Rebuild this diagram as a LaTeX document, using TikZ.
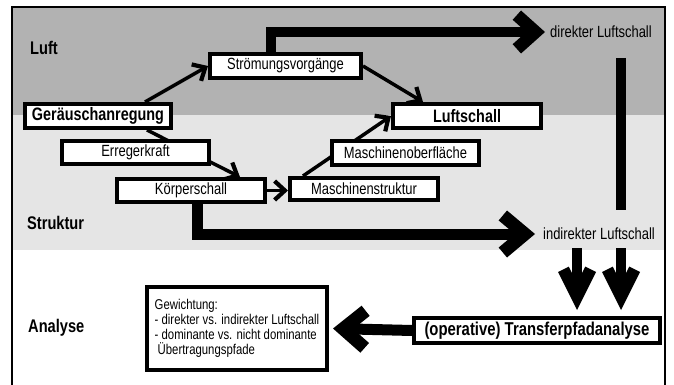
\documentclass[tikz,border=0pt]{standalone}
\usepackage{fontspec}
\setmainfont{Liberation Sans}[FakeStretch=0.8]
\usetikzlibrary{arrows.meta,calc}
\pgfdeclarelayer{bg}
\pgfdeclarelayer{behind}
\pgfsetlayers{bg,behind,main}
\definecolor{darkband}{RGB}{178,178,178}
\definecolor{lightband}{RGB}{229,229,229}
\pgfdeclarearrow{
  name = Chev,
  parameters = {\the\pgfarrowlength,\the\pgfarrowwidth,\the\pgfarrowlinewidth},
  defaults = {length=20pt, width=30pt, line width=8pt},
  setup code = {%
    \pgfmathsetmacro\chevL{\pgfarrowlength}%
    \pgfmathsetmacro\chevW{0.5*\pgfarrowwidth}%
    \pgfmathsetmacro\chevT{\pgfarrowlinewidth}%
    \pgfmathsetmacro\chevS{sqrt(\chevL*\chevL+\chevW*\chevW)}%
    \pgfmathsetmacro\chevLE{\chevT*\chevL/(2*\chevW)+0.5*\chevT*\chevS/(2*\chevW)}%
    \pgfmathsetmacro\chevBE{\chevL+\chevT*\chevW/\chevS}%
    \pgfarrowssettipend{0pt}%
    \pgfarrowssetlineend{-\chevLE pt}%
    \pgfarrowssetbackend{-\chevBE pt}%
    \pgfarrowshullpoint{0pt}{0pt}%
    \pgfarrowsupperhullpoint{-\chevL pt}{\chevW pt}%
    \pgfarrowsupperhullpoint{-\chevBE pt}{\chevW pt}%
    \pgfarrowssavethe\pgfarrowlength
    \pgfarrowssavethe\pgfarrowwidth
    \pgfarrowssavethe\pgfarrowlinewidth
  },
  drawing code = {%
    \pgfmathsetmacro\chevL{\pgfarrowlength}%
    \pgfmathsetmacro\chevW{0.5*\pgfarrowwidth}%
    \pgfmathsetmacro\chevT{\pgfarrowlinewidth}%
    \pgfmathsetmacro\chevS{sqrt(\chevL*\chevL+\chevW*\chevW)}%
    \pgfmathsetmacro\chevIX{\chevL+\chevT*\chevW/\chevS}%
    \pgfmathsetmacro\chevIY{\chevW-\chevT*\chevL/\chevS}%
    \pgfmathsetmacro\chevN{\chevT*\chevS/\chevW}%
    \pgfpathmoveto{\pgfpoint{0pt}{0pt}}%
    \pgfpathlineto{\pgfpoint{-\chevL pt}{\chevW pt}}%
    \pgfpathlineto{\pgfpoint{-\chevIX pt}{\chevIY pt}}%
    \pgfpathlineto{\pgfpoint{-\chevN pt}{0pt}}%
    \pgfpathlineto{\pgfpoint{-\chevIX pt}{-\chevIY pt}}%
    \pgfpathlineto{\pgfpoint{-\chevL pt}{-\chevW pt}}%
    \pgfpathclose
    \pgfusepathqfill
  }
}
\begin{document}
\begin{tikzpicture}[x=1pt,y=-1pt,
  box/.style={draw, line width=3.8pt, fill=white, inner sep=0pt, font=\fontsize{16.2}{19}\selectfont},
  bbox/.style={box, font=\bfseries\fontsize{18}{21}\selectfont},
  lab/.style={anchor=west, inner sep=0pt, font=\bfseries\fontsize{18.3}{21}\selectfont},
  plain/.style={anchor=west, inner sep=0pt, font=\fontsize{16.2}{19}\selectfont},
  thinarr/.style={line width=3.5pt, -{Chev[length=12pt,width=22pt,line width=4.2pt]}},
  bigline/.style={line width=10pt},
  bigarr/.style={bigline, -{Chev[length=24pt,width=43pt,line width=12.5pt]}},
  widearr/.style={bigline, line width=11pt, -{Chev[length=28pt,width=47pt,line width=13pt]}},
  downarr/.style={bigline, -{Chev[length=38pt,width=38pt,line width=12pt]}}]
\useasboundingbox (0,0) rectangle (674,385);
\clip (0,0) rectangle (674,385);
\begin{pgfonlayer}{bg}
\fill[white] (0,0) rectangle (674,385);
\fill[darkband] (12,7) rectangle (665,115);
\fill[lightband] (12,115) rectangle (665,250);
\draw[line width=1.5pt] (12,395) -- (12,7) -- (665,7) -- (665,395);
\end{pgfonlayer}

\node[lab] (luft) at (30,48) {Luft};
\node[lab] (struk) at (27,223) {Struktur};
\node[lab] (anal) at (28,328) {Analyse};

\node[bbox, minimum width=146.2pt, minimum height=24.2pt] (ger) at (98,116) {Geräuschanregung};
\node[box, minimum width=147.2pt, minimum height=23.2pt] (err) at (135.5,152.5) {Erregerkraft};
\node[box, minimum width=148.2pt, minimum height=23.2pt] (kor) at (191,190.5) {Körperschall};
\node[box, minimum width=148.2pt, minimum height=22.2pt] (mst) at (364,189) {Maschinenstruktur};
\node[box, minimum width=147.2pt, minimum height=24.2pt] (mob) at (405.5,153) {Maschinenoberfläche};
\node[bbox, minimum width=148.2pt, minimum height=24.2pt] (lus) at (467,116) {Luftschall};
\node[box, minimum width=151.2pt, minimum height=24.2pt] (str) at (285.5,66) {Strömungsvorgänge};
\node[bbox, minimum width=246.2pt, minimum height=25.2pt, font=\bfseries\fontsize{18.6}{21}\selectfont] (tra) at (537,330.5) {(operative) Transferpfadanalyse};
\node[box, minimum width=180.2pt, minimum height=83.2pt, align=left, font=\fontsize{14.2}{15}\selectfont] (gew) at (237,328.5) {Gewichtung:\\- direkter vs. indirekter Luftschall\\- dominante vs. nicht dominante\\\hspace*{3pt}Übertragungspfade};

\node[plain] (dir) at (550,32) {direkter Luftschall};
\node[plain] (ind) at (543,234) {indirekter Luftschall};

\coordinate (v1) at (621,58);
\coordinate (v2) at (621,210);
\coordinate (d1s) at (577,248);
\coordinate (d1e) at (577,310);
\coordinate (d2s) at (621,248);
\coordinate (d2e) at (621,310);

\begin{pgfonlayer}{behind}
\draw[thinarr] ([xshift=49pt]ger.south) -- ([xshift=49pt]kor.north);
\draw[thinarr] ([xshift=-61pt]mst.north) -- (lus.west);
\end{pgfonlayer}
\draw[thinarr] ([xshift=47pt]ger.north) -- (str.west);
\draw[thinarr] (kor.east) -- (kor.east -| mst.west);
\draw[thinarr] (str.east) -- ([xshift=-44pt]lus.north);

\draw[bigarr] ([xshift=-14.5pt]str.north) |- ([xshift=-5pt]dir.west);
\draw[bigline] (v1) -- (v2);
\draw[widearr] ([xshift=6pt]kor.south) |- ([xshift=-8pt]ind.west);
\draw[downarr] (d1s) -- (d1e);
\draw[downarr] (d2s) -- (d2e);
\draw[widearr] (tra.west) -- ([xshift=4pt]gew.east);
\end{tikzpicture}
\end{document}
